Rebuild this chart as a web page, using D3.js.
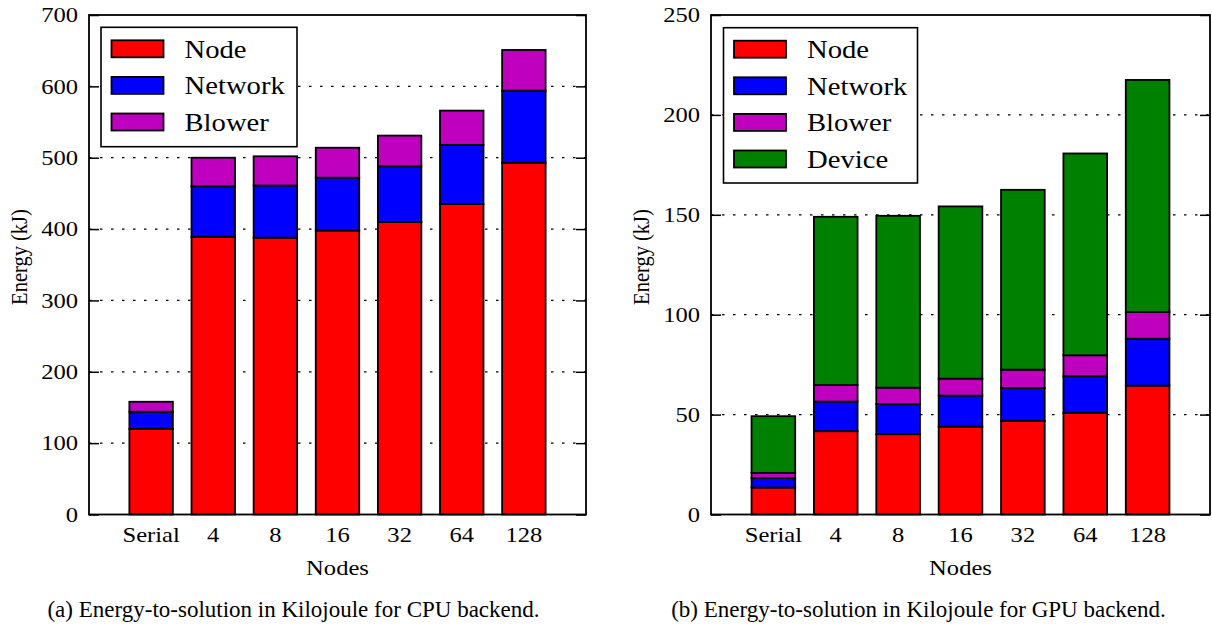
<!DOCTYPE html>
<html>
<head>
<meta charset="utf-8">
<script src="https://cdn.jsdelivr.net/npm/d3@7"></script>
<style>
  body { margin: 0; background: #fff; }
  svg text { font-family: "Liberation Serif", serif; fill: #000; }
</style>
</head>
<body>
<div id="chart-area"></div>
<script>
// DATA
const categories = ["Serial", "4", "8", "16", "32", "64", "128"]

// CPU backend (kJ)
const cpuNode    = [120, 389, 388, 398, 410, 435, 493]
const cpuNetwork = [24, 71, 73, 74, 78, 83, 101]
const cpuBlower  = [14, 40, 41, 42, 43, 48, 57]
const cpuTicks   = [0, 100, 200, 300, 400, 500, 600, 700]

// GPU backend (kJ)
const gpuNode    = [13.5, 41.7, 40.2, 44, 46.8, 50.8, 64.5]
const gpuNetwork = [4.7, 14.8, 15, 15.5, 16.5, 18.4, 23.5]
const gpuBlower  = [2.6, 8.3, 8.3, 8.5, 9.2, 10.5, 13.3]
const gpuDevice  = [28.4, 84.2, 86, 86.2, 90, 101, 116.2]
const gpuTicks   = [0, 50, 100, 150, 200, 250]

const colors = { Node: "#ff0000", Network: "#0000ff", Blower: "#bf00bf", Device: "#008000" }

const FONT = 'Liberation Serif'
const SX = 1.17   // figure text is stretched horizontally in the original

const svg = d3.select('#chart-area')
              .append('svg')
              .attr('width', 1212)
              .attr('height', 624)

function drawPanel(opt) {
    const { left, right, top, bottom, series, ticks, caption, capX, legendBox } = opt
    const keys = Object.keys(series)
    const rows = categories.map((c, i) => {
        const r = { cat: c }
        keys.forEach(k => r[k] = series[k][i])
        return r
    })

    const x = d3.scaleBand()
                .domain(categories)
                .range([left, right])
                .paddingInner(0.3)
                .paddingOuter(0.65)

    const y = d3.scaleLinear()
                .domain([0, d3.max(ticks)])
                .range([bottom, top])

    const g = svg.append('g')

    // GRID (behind bars)
    g.append('g')
     .selectAll('line')
     .data(ticks.slice(1, -1))
     .enter()
     .append('line')
     .attr('x1', left)
     .attr('x2', right)
     .attr('y1', d => y(d))
     .attr('y2', d => y(d))
     .attr('stroke', '#000')
     .attr('stroke-width', 1.3)
     .attr('stroke-dasharray', '2.5,8.5')

    // STACKED BARS
    const stacked = d3.stack().keys(keys)(rows)
    g.append('g')
     .selectAll('g')
     .data(stacked)
     .enter()
     .append('g')
     .attr('fill', d => colors[d.key])
     .selectAll('rect')
     .data(d => d)
     .enter()
     .append('rect')
     .attr('x', d => x(d.data.cat))
     .attr('y', d => y(d[1]))
     .attr('width', x.bandwidth())
     .attr('height', d => y(d[0]) - y(d[1]))
     .attr('stroke', '#000')
     .attr('stroke-width', 1.8)

    // Y AXIS LEFT (inward ticks + labels)
    const yl = g.append('g')
                .attr('transform', `translate(${left},0)`)
                .call(d3.axisLeft(y).tickValues(ticks).tickSize(-10).tickPadding(11))
    yl.attr('font-family', FONT)
    yl.select('.domain').remove()
    yl.selectAll('line').attr('stroke-width', 1.5)
    yl.selectAll('text')
      .attr('font-size', 21)
      .attr('x', -11 / SX)
      .attr('transform', `scale(${SX},1)`)

    // Y AXIS RIGHT (inward ticks only)
    const yr = g.append('g')
                .attr('transform', `translate(${right},0)`)
                .call(d3.axisRight(y).tickValues(ticks).tickSize(-10).tickFormat(''))
    yr.select('.domain').remove()
    yr.selectAll('line').attr('stroke-width', 1.5)

    // X AXIS LABELS
    const xa = g.append('g')
                .attr('transform', `translate(0,${bottom})`)
                .call(d3.axisBottom(x).tickSize(0))
    xa.attr('font-family', FONT)
    xa.select('.domain').remove()
    xa.selectAll('text')
      .attr('font-size', 21)
      .attr('y', 28)
      .attr('dy', 0)
      .attr('transform', `scale(${SX},1)`)

    // FRAME
    g.append('rect')
     .attr('x', left)
     .attr('y', top)
     .attr('width', right - left)
     .attr('height', bottom - top)
     .attr('fill', 'none')
     .attr('stroke', '#000')
     .attr('stroke-width', 1.8)

    // AXIS TITLES
    g.append('text')
     .attr('transform', `translate(${(left + right) / 2},575) scale(${SX},1)`)
     .attr('text-anchor', 'middle')
     .attr('font-size', 21)
     .text('Nodes')

    g.append('text')
     .attr('transform', `translate(${left - 62},257) scale(${SX},1) rotate(-90)`)
     .attr('text-anchor', 'middle')
     .attr('font-size', 20.5)
     .text('Energy (kJ)')

    // LEGEND
    const lg = g.append('g')
    lg.append('rect')
      .attr('x', legendBox.x)
      .attr('y', legendBox.y)
      .attr('width', legendBox.w)
      .attr('height', legendBox.h)
      .attr('fill', '#fff')
      .attr('stroke', '#000')
      .attr('stroke-width', 1.6)

    const items = lg.selectAll('g.item')
                    .data(keys)
                    .enter()
                    .append('g')
                    .attr('class', 'item')
                    .attr('transform', (d, i) => `translate(${legendBox.x},${legendBox.y + 21.5 + i * 36.6})`)
    items.append('rect')
         .attr('x', 10.5)
         .attr('y', -8.5)
         .attr('width', 52)
         .attr('height', 17)
         .attr('fill', d => colors[d])
         .attr('stroke', '#000')
         .attr('stroke-width', 1.8)
    items.append('text')
         .attr('transform', `translate(83.5,8.8) scale(${SX},1)`)
         .attr('font-size', 24.5)
         .text(d => d)

    // CAPTION
    svg.append('text')
       .attr('x', capX)
       .attr('y', 616.5)
       .attr('text-anchor', 'middle')
       .attr('font-size', 23)
       .text(caption)
}

drawPanel({
    left: 89, right: 586, top: 15, bottom: 514.5,
    series: { Node: cpuNode, Network: cpuNetwork, Blower: cpuBlower },
    ticks: cpuTicks,
    caption: '(a) Energy-to-solution in Kilojoule for CPU backend.',
    capX: 293.5,
    legendBox: { x: 101, y: 27.3, w: 196, h: 119.4 }
})

drawPanel({
    left: 711, right: 1210, top: 15, bottom: 514.5,
    series: { Node: gpuNode, Network: gpuNetwork, Blower: gpuBlower, Device: gpuDevice },
    ticks: gpuTicks,
    caption: '(b) Energy-to-solution in Kilojoule for GPU backend.',
    capX: 918.5,
    legendBox: { x: 723.5, y: 27.7, w: 194, h: 155.3 }
})
</script>
</body>
</html>
